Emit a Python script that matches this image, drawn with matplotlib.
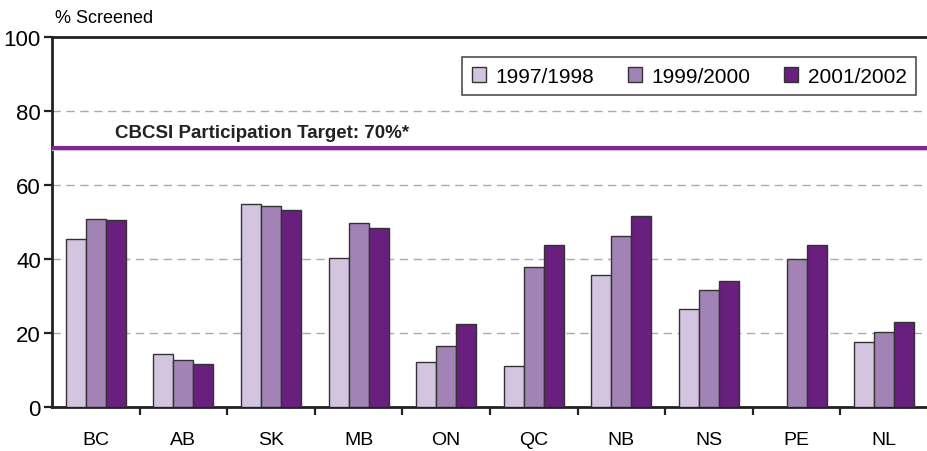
import matplotlib
matplotlib.use("Agg")
import matplotlib.pyplot as plt
import numpy as np

provinces = ["BC", "AB", "SK", "MB", "ON", "QC", "NB", "NS", "PE", "NL"]
years = ["1997/1998", "1999/2000", "2001/2002"]
y1997 = [45.5, 14.4, 54.9, 40.3, 12.3, 11.1, 35.8, 26.5, 0, 17.7]
y1999 = [50.7, 12.6, 54.2, 49.7, 16.6, 37.9, 46.1, 31.6, 40.0, 20.2]
y2001 = [50.6, 11.7, 53.3, 48.5, 22.3, 43.7, 51.7, 34.1, 43.7, 22.9]
target = 70

colors = ["#d3c5df", "#a183b5", "#681f7e"]
plt.rcParams["font.family"] = ["Liberation Sans", "DejaVu Sans"]

fig = plt.figure(figsize=(9.28, 4.52), dpi=100)
ax = fig.add_axes([0.056, 0.0973, 0.944, 0.8187])

x = np.arange(len(provinces))
w = 0.228
for i, (vals, c, lab) in enumerate(zip([y1997, y1999, y2001], colors, years)):
    ax.bar(x + (i - 1) * w, vals, width=w, color=c, edgecolor="#333333",
           linewidth=1.0, label=lab, zorder=3)

ax.axhline(target, color="#7b2a8f", linewidth=3, zorder=4)
ax.axhline(target - 0.55, color="#d9c6e3", linewidth=0.8, zorder=3)
ax.text(0.22, 72, "CBCSI Participation Target: 70%*", fontsize=13.5,
        fontweight="bold", ha="left", va="bottom", color="#222222")

ax.set_xlim(-0.5, len(provinces) - 0.5)
ax.set_ylim(0, 100)
ax.set_yticks([0, 20, 40, 60, 80, 100])
for g in [20, 40, 60, 80]:
    ax.axhline(g, color="#aaaaaa", linestyle=(0, (6, 4)), linewidth=1.0, zorder=1)

ax.set_xticks(x)
ax.set_xticklabels(provinces, fontsize=14)
ax.set_xticks(np.arange(0.5, len(provinces) - 0.5, 1), minor=True)
ax.tick_params(axis="x", which="major", length=0, pad=17)
ax.tick_params(axis="x", which="minor", length=6, width=1.6, direction="out", color="#222222")
ax.tick_params(axis="y", length=6, width=1.6, labelsize=16, pad=2, color="#222222")

for s in ["left", "bottom", "top"]:
    ax.spines[s].set_linewidth(2)
    ax.spines[s].set_color("#222222")
ax.spines["right"].set_visible(False)

fig.text(0.059, 0.96, "% Screened", fontsize=13, ha="left", va="center")

leg = ax.legend(loc="upper right", bbox_to_anchor=(0.9935, 0.962), ncol=3,
                fontsize=15, frameon=True, fancybox=False, edgecolor="#222222",
                handlelength=0.7, handleheight=0.7, handletextpad=0.45,
                columnspacing=1.6, borderpad=0.45, borderaxespad=0.3)
leg.get_frame().set_linewidth(1.2)

fig.savefig("out.png", dpi=100)
